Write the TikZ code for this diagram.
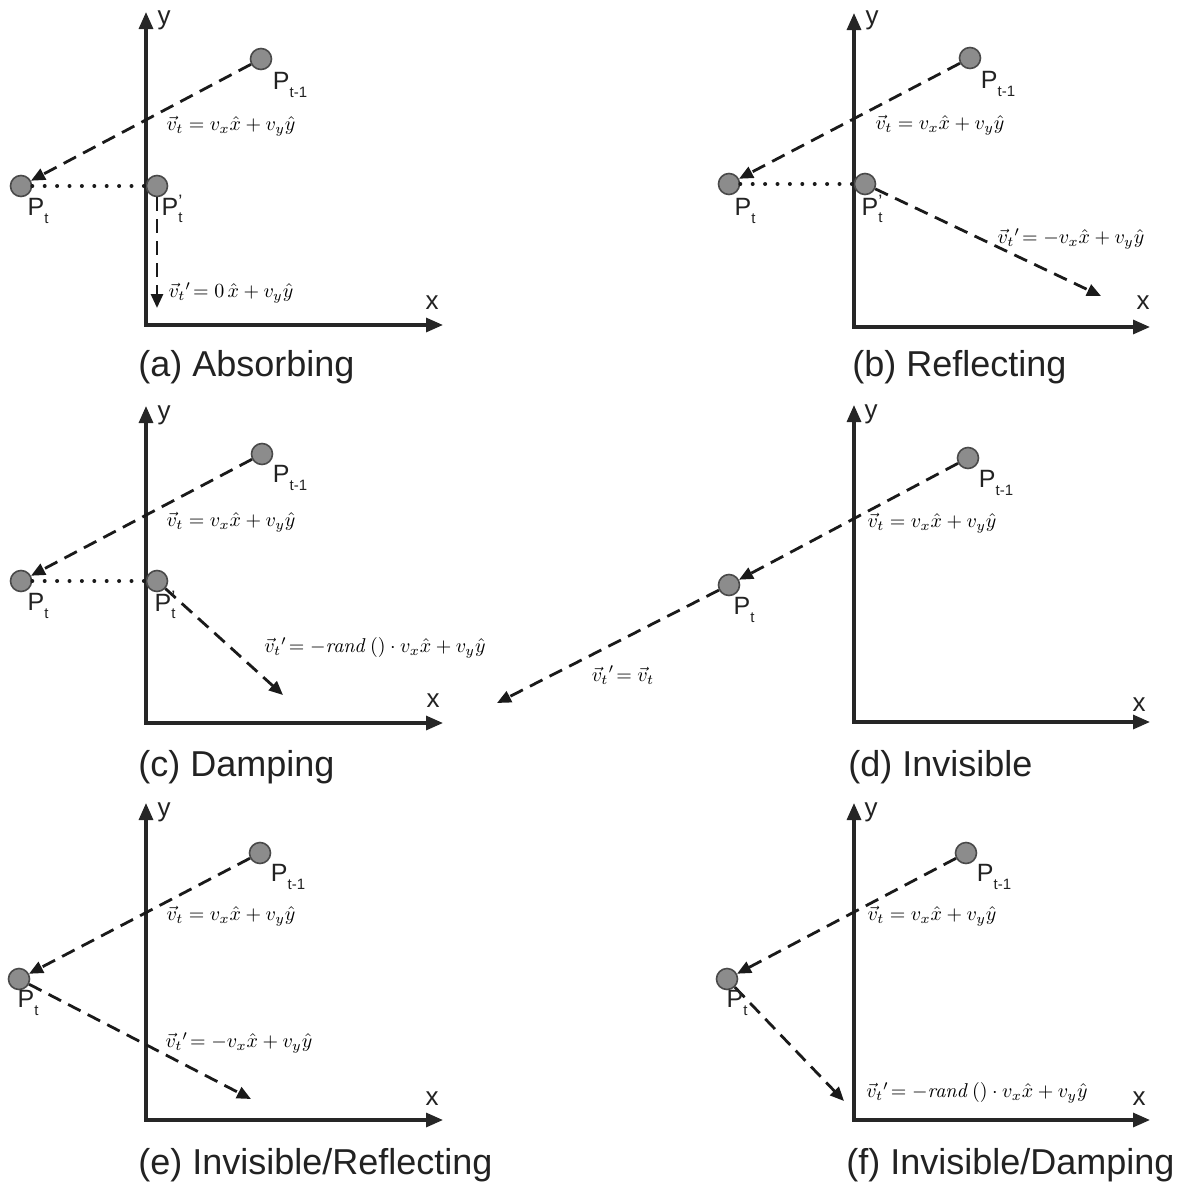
\documentclass[tikz,border=0pt]{standalone}
\usepackage[no-math]{fontspec}
\setmainfont{Liberation Sans}
\usetikzlibrary{arrows.meta}
\definecolor{axc}{HTML}{262626}
\definecolor{lnc}{HTML}{1A1A1A}
\definecolor{ptfill}{HTML}{8C8C8C}
\definecolor{ptdraw}{HTML}{4A4A4A}
\definecolor{txc}{HTML}{222222}
\newcommand\subf{\fontsize{7.5}{8}\selectfont}
\newcommand\Pone{P\raisebox{-0.55ex}{\subf t-1}}
\newcommand\Ptt{P\raisebox{-0.55ex}{\subf t}}
\newcommand\Ptp{P\rlap{\raisebox{-0.55ex}{\subf t}}\raisebox{0.6ex}{\fontsize{9}{9}\selectfont '}}
\tikzset{
  axis/.style={line width=1.6pt, draw=axc, {Triangle[length=8.5pt,width=7pt]}-{Triangle[length=8.5pt,width=7pt]}},
  pnt/.style={circle, fill=ptfill, draw=ptdraw, line width=0.8pt, minimum size=10.5pt, inner sep=0pt},
  vel/.style={line width=1.4pt, draw=lnc, dash pattern=on 7pt off 4pt, -{Triangle[length=7pt,width=6pt]}},
  dots/.style={line width=2pt, line cap=round, dash pattern=on 0pt off 6.2pt, draw=lnc},
  lbl/.style={font=\fontsize{12.5}{14}\selectfont, inner sep=0pt, text=txc},
  fml/.style={font=\fontsize{9.6}{12}\selectfont, inner sep=0pt, text=black},
  capt/.style={font=\fontsize{18}{20}\selectfont, anchor=west, inner sep=0pt, text=txc},
  axl/.style={font=\fontsize{13}{14}\selectfont, inner sep=0pt, text=txc}
}
\begin{document}
\begin{tikzpicture}[x=0.5pt,y=-0.5pt]
\useasboundingbox (0,0) rectangle (1186,1189);
% ===== (a) Absorbing =====
\coordinate (aY) at (146,12); \coordinate (aO) at (146,325); \coordinate (aX) at (443,325);
\draw[axis] (aY) -- (aO) -- (aX);
\node[axl] (ayl) at (164,20) {y};
\node[axl] (axl) at (432,303) {x};
\node[pnt] (a1) at (261,59) {};
\node[pnt] (a2) at (21,186) {};
\node[pnt] (a3) at (157,186) {};
\coordinate (a4) at (157,308);
\draw[vel] (a1) -- (a2);
\draw[dots] (a2) -- (a3);
\draw[vel] (a3) -- (a4);
\node[lbl] (a1l) at (290,85) {\Pone};
\node[lbl] (a2l) at (38,211) {\Ptt};
\node[lbl] (a3l) at (172,209) {\Ptp};
\node[fml] (af1) at (231,126) {$\vec{v}_t = v_x\hat{x}+v_y\hat{y}$};
\node[fml] (af2) at (231,293) {$\vec{v}_t{}'\!= 0\,\hat{x}+v_y\hat{y}$};
\node[capt] (acap) at (138,367) {(a) Absorbing};
% ===== (b) Reflecting =====
\coordinate (bY) at (854,13); \coordinate (bO) at (854,327); \coordinate (bX) at (1150,327);
\draw[axis] (bY) -- (bO) -- (bX);
\node[axl] (byl) at (872,20) {y};
\node[axl] (bxl) at (1143,303) {x};
\node[pnt] (b1) at (970,58) {};
\node[pnt] (b2) at (729,184) {};
\node[pnt] (b3) at (865,184) {};
\coordinate (b4) at (1101,296);
\draw[vel] (b1) -- (b2);
\draw[dots] (b2) -- (b3);
\draw[vel] (b3) -- (b4);
\node[lbl] (b1l) at (998,84) {\Pone};
\node[lbl] (b2l) at (745,211) {\Ptt};
\node[lbl] (b3l) at (872,209) {\Ptp};
\node[fml] (bf1) at (940,125) {$\vec{v}_t = v_x\hat{x}+v_y\hat{y}$};
\node[fml] (bf2) at (1071,239) {$\vec{v}_t{}'\!= -v_x\hat{x}+v_y\hat{y}$};
\node[capt] (bcap) at (852,367) {(b) Reflecting};
% ===== (c) Damping =====
\coordinate (cY) at (146,406); \coordinate (cO) at (146,723); \coordinate (cX) at (443,723);
\draw[axis] (cY) -- (cO) -- (cX);
\node[axl] (cyl) at (164,415) {y};
\node[axl] (cxl) at (433,701) {x};
\node[pnt] (c1) at (262,454) {};
\node[pnt] (c2) at (21,581) {};
\node[pnt] (c3) at (157,581) {};
\coordinate (c4) at (283,695);
\draw[vel] (c1) -- (c2);
\draw[dots] (c2) -- (c3);
\draw[vel] (c3) -- (c4);
\node[lbl] (c1l) at (290,478) {\Pone};
\node[lbl] (c2l) at (38,606) {\Ptt};
\node[lbl] (c3l) at (165,605) {\Ptp};
\node[fml] (cf1) at (231,522) {$\vec{v}_t = v_x\hat{x}+v_y\hat{y}$};
\node[fml] (cf2) at (375,648) {$\vec{v}_t{}'\!= -\mathit{rand}\,()\cdot v_x\hat{x}+v_y\hat{y}$};
\node[capt] (ccap) at (138,767) {(c) Damping};
% ===== (d) Invisible =====
\coordinate (dY) at (854,405); \coordinate (dO) at (854,722); \coordinate (dX) at (1150,722);
\draw[axis] (dY) -- (dO) -- (dX);
\node[axl] (dyl) at (871,414) {y};
\node[axl] (dxl) at (1139,705) {x};
\node[pnt] (d1) at (968,458) {};
\node[pnt] (d2) at (729,585) {};
\coordinate (d3) at (497,703);
\draw[vel] (d1) -- (d2);
\draw[vel] (d2) -- (d3);
\node[lbl] (d1l) at (996,483) {\Pone};
\node[lbl] (d2l) at (744,610) {\Ptt};
\node[fml] (df1) at (932,523) {$\vec{v}_t = v_x\hat{x}+v_y\hat{y}$};
\node[fml] (df2) at (623,675) {$\vec{v}_t{}'\!= \vec{v}_t$};
\node[capt] (dcap) at (848,767) {(d) Invisible};
% ===== (e) Invisible/Reflecting =====
\coordinate (eY) at (146,803); \coordinate (eO) at (146,1120); \coordinate (eX) at (443,1120);
\draw[axis] (eY) -- (eO) -- (eX);
\node[axl] (eyl) at (164,812) {y};
\node[axl] (exl) at (432,1099) {x};
\node[pnt] (e1) at (260,853) {};
\node[pnt] (e2) at (19,979) {};
\coordinate (e3) at (251,1099);
\draw[vel] (e1) -- (e2);
\draw[vel] (e2) -- (e3);
\node[lbl] (e1l) at (288,877) {\Pone};
\node[lbl] (e2l) at (28,1003) {\Ptt};
\node[fml] (ef1) at (231,916) {$\vec{v}_t = v_x\hat{x}+v_y\hat{y}$};
\node[fml] (ef2) at (239,1043) {$\vec{v}_t{}'\!= -v_x\hat{x}+v_y\hat{y}$};
\node[capt] (ecap) at (138,1165) {(e) Invisible/Reflecting};
% ===== (f) Invisible/Damping =====
\coordinate (fY) at (854,803); \coordinate (fO) at (854,1120); \coordinate (fX) at (1150,1120);
\draw[axis] (fY) -- (fO) -- (fX);
\node[axl] (fyl) at (871,812) {y};
\node[axl] (fxl) at (1139,1099) {x};
\node[pnt] (f1) at (966,853) {};
\node[pnt] (f2) at (727,979) {};
\coordinate (f3) at (844,1101);
\draw[vel] (f1) -- (f2);
\draw[vel] (f2) -- (f3);
\node[lbl] (f1l) at (994,877) {\Pone};
\node[lbl] (f2l) at (737,1003) {\Ptt};
\node[fml] (ff1) at (932,916) {$\vec{v}_t = v_x\hat{x}+v_y\hat{y}$};
\node[fml] (ff2) at (977,1093) {$\vec{v}_t{}'\!= -\mathit{rand}\,()\cdot v_x\hat{x}+v_y\hat{y}$};
\node[capt] (fcap) at (846,1165) {(f) Invisible/Damping};
\end{tikzpicture}
\end{document}
